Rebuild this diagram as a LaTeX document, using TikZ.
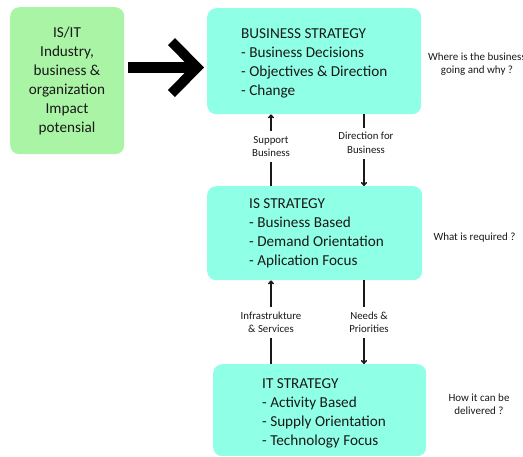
\documentclass[tikz,border=0pt]{standalone}
\usepackage{fontspec}
\setmainfont{Carlito}
\usetikzlibrary{arrows.meta}
\definecolor{boxcyan}{RGB}{143,255,230}
\definecolor{boxgreen}{RGB}{170,245,165}
\definecolor{ink}{RGB}{25,25,25}
\begin{document}
\begin{tikzpicture}[x=1pt,y=-1pt,
  box/.style={draw=none, fill=boxcyan, rounded corners=9pt, inner sep=0pt, anchor=north west},
  bigtext/.style={font=\fontsize{15.2}{19}\selectfont, inner sep=0pt, text=ink},
  lab/.style={font=\fontsize{10.8}{13.5}\selectfont, align=center, fill=white, inner xsep=1pt, inner ysep=5pt, text=ink},
  side/.style={font=\fontsize{11}{13}\selectfont, inner sep=0pt, text=ink},
  conn/.style={line width=1.4pt, draw=ink, -{To[length=4pt,width=6pt]}}]
\useasboundingbox (0,0) rectangle (523,456);

% boxes
\node[box, fill=boxgreen, minimum width=114pt, minimum height=147pt] (ind) at (10,7) {};
\node[box, minimum width=214pt, minimum height=106pt] (biz) at (207,8) {};
\node[box, minimum width=215pt, minimum height=94pt] (is) at (207,186) {};
\node[box, minimum width=213pt, minimum height=92pt] (it) at (213,364) {};

% box texts
\node[bigtext, anchor=base] (indtext) at (67,37.5)
  {\begin{tabular}[t]{@{}c@{}}IS/IT\\Industry,\\business \&\\organization\\Impact\\potensial\end{tabular}};
\node[bigtext, anchor=base west] (biztext) at (241,38.5)
  {\begin{tabular}[t]{@{}l@{}}BUSINESS STRATEGY\\- Business Decisions\\- Objectives \& Direction\\- Change\end{tabular}};
\node[bigtext, anchor=base west] (istext) at (249,208)
  {\begin{tabular}[t]{@{}l@{}}IS STRATEGY\\- Business Based\\- Demand Orientation\\- Aplication Focus\end{tabular}};
\node[bigtext, anchor=base west] (ittext) at (262,388)
  {\begin{tabular}[t]{@{}l@{}}IT STRATEGY\\- Activity Based\\- Supply Orientation\\- Technology Focus\end{tabular}};

% big arrow
\coordinate (a1) at (128,67.5);
\coordinate (a2) at (196,67.5);
\draw[line width=11pt, draw=black] (a1) -- (a2);
\fill[black] (175,38) -- (204,67.5) -- (175,97) -- (168,90) -- (190,67.5) -- (168,45) -- cycle;

% connectors
\coordinate (lx) at (271,0);
\coordinate (rx) at (364,0);
\draw[conn] (is.north -| lx) -- node[lab, pos=0.55] (l1) {Support\\Business} (biz.south -| lx);
\draw[conn] (biz.south -| rx) -- node[lab, pos=0.40, xshift=2pt] (l2) {Direction for\\Business} (is.north -| rx);
\draw[conn] (it.north -| lx) -- node[lab, pos=0.5] (l3) {Infrastrukture\\\& Services} (is.south -| lx);
\draw[conn] (is.south -| rx) -- node[lab, pos=0.5, xshift=5pt] (l4) {Needs \&\\Priorities} (it.north -| rx);

% side questions
\node[side, anchor=base] (q1) at (477,60.7)
  {\begin{tabular}[t]{@{}c@{}}Where is the business\\going and why ?\end{tabular}};
\node[side, anchor=base] (q2) at (474.5,240) {What is required ?};
\node[side, anchor=base] (q3) at (479,401)
  {\begin{tabular}[t]{@{}c@{}}How it can be\\delivered ?\end{tabular}};
\end{tikzpicture}
\end{document}
